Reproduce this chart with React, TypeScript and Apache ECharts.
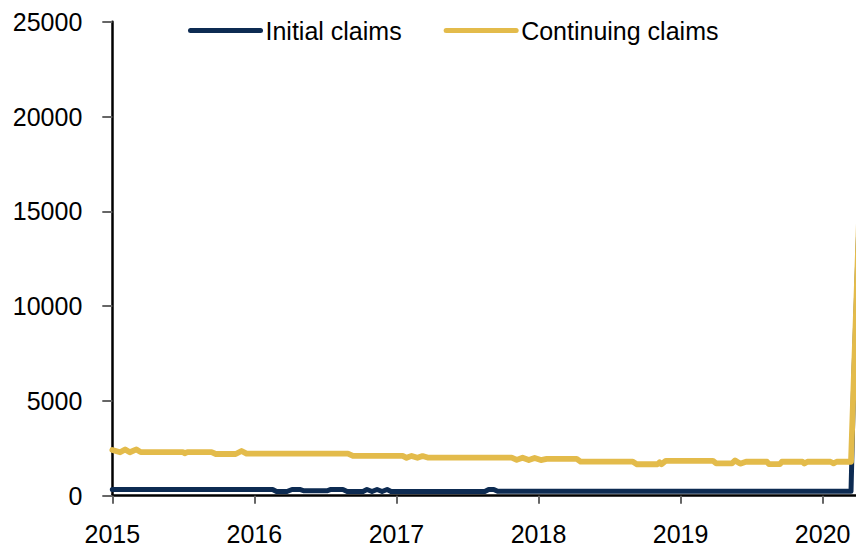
import React, { useEffect, useRef } from "react";
import * as echarts from "echarts";

const seriesNames = ["Initial claims", "Continuing claims"];

const initialDates = [
  "2015-01-01", "2016-02-17", "2016-02-27", "2016-03-25", "2016-04-07", "2016-04-27",
  "2016-05-08", "2016-07-06", "2016-07-16", "2016-08-16", "2016-08-27", "2016-10-07",
  "2016-10-17", "2016-10-30", "2016-11-12", "2016-11-25", "2016-12-08", "2016-12-18",
  "2017-08-16", "2017-08-26", "2017-09-08", "2017-09-18", "2018-06-01", "2019-06-01",
  "2020-03-14", "2020-03-21", "2020-03-28", "2020-04-04", "2020-04-11", "2020-04-18",
];
const initialValues = [
  330, 330, 220, 220, 330, 330,
  260, 260, 330, 330, 220, 220,
  330, 220, 330, 220, 330, 220,
  220, 330, 330, 230, 230, 230,
  230, 6100, 10400, 14800, 19000, 22500,
];

const continuingDates = [
  "2015-01-01", "2015-01-21", "2015-02-03", "2015-02-15", "2015-03-04", "2015-03-15",
  "2015-07-01", "2015-07-06", "2015-07-13", "2015-09-13", "2015-09-24", "2015-11-14",
  "2015-11-29", "2015-12-12", "2016-08-29", "2016-09-11", "2017-01-17", "2017-01-27",
  "2017-02-09", "2017-02-24", "2017-03-09", "2017-03-22", "2017-10-24", "2017-11-06",
  "2017-11-21", "2017-12-07", "2017-12-22", "2018-01-07", "2018-01-22", "2018-04-09",
  "2018-04-19", "2018-08-31", "2018-09-10", "2018-11-03", "2018-11-08", "2018-11-13",
  "2018-11-24", "2019-03-25", "2019-04-02", "2019-05-13", "2019-05-21", "2019-06-03",
  "2019-06-18", "2019-08-11", "2019-08-16", "2019-09-13", "2019-09-18", "2019-11-10",
  "2019-11-15", "2019-11-23", "2020-01-21", "2020-01-29", "2020-02-06", "2020-03-14",
  "2020-03-21", "2020-03-28", "2020-04-04", "2020-04-11", "2020-04-18",
];
const continuingValues = [
  2410, 2290, 2440, 2290, 2440, 2300,
  2300, 2240, 2300, 2300, 2200, 2200,
  2360, 2220, 2220, 2100, 2100, 2000,
  2100, 2000, 2090, 2010, 2010, 1890,
  2000, 1880, 1990, 1880, 1940, 1940,
  1800, 1800, 1660, 1660, 1760, 1660,
  1840, 1840, 1710, 1710, 1860, 1690,
  1790, 1790, 1670, 1670, 1790, 1790,
  1700, 1790, 1790, 1710, 1790, 1790,
  6100, 10400, 14800, 19000, 22500,
];

const FONT = "'Liberation Sans', Arial, sans-serif";
const NAVY = "#0d2b52";
const GOLD = "#e3bb4b";

function toYear(d: string): number {
  const [y, m, dd] = d.split("-").map(Number);
  const start = Date.UTC(y, 0, 1);
  const end = Date.UTC(y + 1, 0, 1);
  return y + (Date.UTC(y, m - 1, dd) - start) / (end - start);
}

function pairs(dates: string[], values: number[]) {
  return dates.map((d, i) => [toYear(d), values[i]]);
}

export default function App() {
  const ref = useRef<HTMLDivElement>(null);
  useEffect(() => {
    if (!ref.current) return;
    const chart = echarts.init(ref.current, undefined, { renderer: "svg" });
    chart.setOption({
      animation: false,
      backgroundColor: "#ffffff",
      textStyle: { fontFamily: FONT },
      legend: {
        data: seriesNames,
        left: 188,
        top: 18,
        padding: 0,
        itemWidth: 70,
        itemHeight: 6,
        itemGap: 42,
        textStyle: { fontSize: 25, color: "#000", fontFamily: FONT },
        lineStyle: { width: 5, cap: "round" },
      },
      grid: {
        left: 112.3,
        top: 21.7,
        bottom: 55.3,
        right: -9.3,
        containLabel: false,
        outerBoundsMode: "none",
      },
      xAxis: {
        type: "value",
        min: 2015,
        max: 2020.3,
        interval: 1,
        splitLine: { show: false },
        axisLine: { lineStyle: { color: "#000", width: 2.5 } },
        axisTick: { length: 8, lineStyle: { color: "#666", width: 2 } },
        axisLabel: {
          fontSize: 25,
          color: "#000",
          fontFamily: FONT,
          margin: 26,
          formatter: (v: number) => (Math.abs(v - Math.round(v)) < 1e-6 ? String(Math.round(v)) : ""),
        },
      },
      yAxis: {
        type: "value",
        min: 0,
        max: 25000,
        interval: 5000,
        splitLine: { show: false },
        axisLine: { show: true, lineStyle: { color: "#000", width: 2.5 } },
        axisTick: { show: true, length: 10, lineStyle: { color: "#666", width: 2 } },
        axisLabel: {
          fontSize: 25,
          color: "#000",
          fontFamily: FONT,
          margin: 30,
          formatter: (v: number) => String(v),
        },
      },
      series: [
        {
          name: seriesNames[0],
          type: "line",
          symbol: "none",
          data: pairs(initialDates, initialValues),
          lineStyle: { color: NAVY, width: 5, cap: "round", join: "round" },
          itemStyle: { color: NAVY },
        },
        {
          name: seriesNames[1],
          type: "line",
          symbol: "none",
          data: pairs(continuingDates, continuingValues),
          lineStyle: { color: GOLD, width: 5.8, cap: "round", join: "round" },
          itemStyle: { color: GOLD },
        },
      ],
    });
    return () => chart.dispose();
  }, []);
  return (
    <div
      ref={ref}
      style={{ position: "fixed", left: 0, top: 0, width: 856, height: 551, overflow: "hidden" }}
    />
  );
}
